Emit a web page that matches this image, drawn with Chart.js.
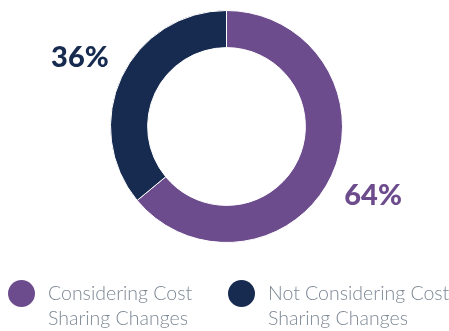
<!DOCTYPE html>
<html>
<head>
<meta charset="utf-8">
<script src="https://cdn.jsdelivr.net/npm/chart.js@4"></script>
<style>
  html, body { margin: 0; padding: 0; background: #ffffff; }
  #wrap { width: 449px; height: 331px; position: relative; }
</style>
</head>
<body>
<div id="wrap"><canvas id="donutcost"></canvas></div>
<script>
'use strict';
var labels = [["Considering Cost", "Sharing Changes"], ["Not Considering Cost", "Sharing Changes"]];
var values = [64, 36];
var barColors = ["#6d4c8e", "#172a50"];

var costjs = function () {
    return {

        init: function () {
            costjs.handleDonutChart();
        },

        // percentage text outside each slice
        pctPlugin: {
            id: "pctLabels",
            afterDatasetsDraw: function (chart) {
                var ctx = chart.ctx;
                var meta = chart.getDatasetMeta(0);
                ctx.save();
                ctx.font = "900 29px Lato";
                ctx.textAlign = "center";
                ctx.textBaseline = "middle";
                meta.data.forEach(function (arc, i) {
                    var p = arc.getProps(["x", "y", "startAngle", "endAngle", "outerRadius"], true);
                    var mid = (p.startAngle + p.endAngle) / 2;
                    var r = p.outerRadius + 46;
                    ctx.fillStyle = barColors[i];
                    ctx.fillText(values[i] + "%", p.x + Math.cos(mid) * r, p.y + Math.sin(mid) * r);
                });
                ctx.restore();
            }
        },

        // two column legend under the ring
        legendPlugin: {
            id: "bottomLegend",
            afterDraw: function (chart) {
                var ctx = chart.ctx;
                var colX = [8, 228];
                ctx.save();
                ctx.font = "300 19.5px Lato";
                ctx.textAlign = "left";
                ctx.textBaseline = "alphabetic";
                labels.forEach(function (lab, i) {
                    ctx.fillStyle = barColors[i];
                    ctx.beginPath();
                    ctx.arc(colX[i] + 13.5, 293.5, 13.5, 0, Math.PI * 2);
                    ctx.fill();
                    ctx.fillStyle = "#7d8894";
                    lab.forEach(function (line, j) {
                        ctx.fillText(line, colX[i] + 40, 300 + j * 25);
                    });
                });
                ctx.restore();
            }
        },

        handleDonutChart: function () {
            new Chart("donutcost", {
                type: "doughnut",
                data: {
                    labels: labels,
                    datasets: [{
                        backgroundColor: barColors,
                        borderColor: "#ffffff",
                        borderWidth: 1,
                        data: values
                    }]
                },
                options: {
                    responsive: true,
                    maintainAspectRatio: false,
                    animation: false,
                    cutout: "68%",
                    layout: { padding: { top: 10, bottom: 88, left: 4, right: 0 } },
                    plugins: {
                        legend: { display: false },
                        tooltip: { enabled: false }
                    }
                },
                plugins: [costjs.pctPlugin, costjs.legendPlugin]
            });
        }

    };
}();

costjs.init();
</script>
</body>
</html>
